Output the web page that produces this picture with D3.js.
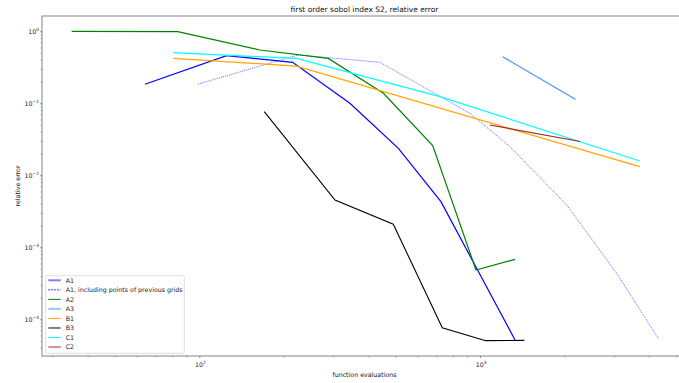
<!DOCTYPE html>
<html>
<head>
<meta charset="utf-8">
<script src="https://cdn.jsdelivr.net/npm/d3@7"></script>
<style>
  html, body { margin: 0; padding: 0; background: #fff; }
  svg { display: block; font-family: "DejaVu Sans", sans-serif; }
</style>
</head>
<body>
<svg id="chart" width="679" height="383"></svg>
<script>
// Convergence of the S2 first-order Sobol index estimates (function evaluations vs relative error)
const a1X = [64, 125, 215, 344, 512, 726, 1333];
const a1Y = [0.184, 0.458, 0.371, 0.100, 0.0237, 0.0043, 5.16e-5];
const a1AllX = [99, 225, 440, 921, 1279, 2037, 3069, 4315];
const a1AllY = [0.185, 0.469, 0.371, 0.0726, 0.025, 0.00387, 4.35e-4, 5.45e-5];
const a2X = [35.1, 83.8, 164.5, 288, 453, 678.5, 967.6, 1333];
const a2Y = [1.0, 0.99, 0.55, 0.42, 0.138, 0.0258, 4.84e-4, 6.8e-4];
const a3X = [1204, 2187];
const a3Y = [0.444, 0.114];
const b1X = [80.8, 222, 3710];
const b1Y = [0.42, 0.329, 0.0132];
const b3X = [170.4, 304.4, 491, 734, 1048, 1439];
const b3Y = [0.0764, 0.00454, 0.00209, 7.64e-5, 5.05e-5, 5.1e-5];
const c1X = [80.8, 222, 720, 3710];
const c1Y = [0.505, 0.42, 0.1235, 0.0158];
const c2X = [1085, 2275];
const c2Y = [0.05, 0.0295];

const xTickExps = [2, 3];
const yTickExps = [0, -1, -2, -3, -4];
const titleText = "first order sobol index S2, relative error";
const xLabelText = "function evaluations";
const yLabelText = "relative error";

(function () {
const series = [
  { name: "A1", xs: a1X, ys: a1Y, color: "#0000ff", width: 1.2, dash: null, opacity: 1,
    legColor: "#8080ff", legWidth: 2 },
  { name: "A1, including points of previous grids", xs: a1AllX, ys: a1AllY, color: "#0000ff", width: 1, dash: "1,1", opacity: 0.6,
    legColor: "#0000ff", legWidth: 1, legDash: "1.5,1.5" },
  { name: "A2", xs: a2X, ys: a2Y, color: "#008000", width: 1.2, dash: null, opacity: 1,
    legColor: "#008000", legWidth: 1 },
  { name: "A3", xs: a3X, ys: a3Y, color: "#3d96f5", width: 1.2, dash: null, opacity: 1,
    legColor: "#8fc7ff", legWidth: 2 },
  { name: "B1", xs: b1X, ys: b1Y, color: "#ffa500", width: 1.2, dash: null, opacity: 1,
    legColor: "#ffa500", legWidth: 1 },
  { name: "B3", xs: b3X, ys: b3Y, color: "#000000", width: 1.1, dash: null, opacity: 1,
    legColor: "#808080", legWidth: 2 },
  { name: "C1", xs: c1X, ys: c1Y, color: "#00ffff", width: 1.2, dash: null, opacity: 1,
    legColor: "#00ffff", legWidth: 1 },
  { name: "C2", xs: c2X, ys: c2Y, color: "#a52a2a", width: 1.2, dash: null, opacity: 1,
    legColor: "#d29494", legWidth: 2 }
];

const svg = d3.select("#chart");
const mLeft = 42, mRight = 687, mTop = 16, mBottom = 356;

const x = d3.scaleLog().domain([Math.pow(10, 1.4396), Math.pow(10, 3.7375)]).range([mLeft, mRight]);
const y = d3.scaleLog().domain([Math.pow(10, -4.5097), Math.pow(10, 0.2125)]).range([mBottom, mTop]);

const axisColor = "#555";
const fs = 6.3;

// plot area lines
const plot = svg.append("g");
const line = d3.line().x(d => x(d[0])).y(d => y(d[1]));
series.forEach(s => {
  const pts = s.xs.map((v, i) => [v, s.ys[i]]);
  plot.append("path")
    .attr("d", line(pts))
    .attr("fill", "none")
    .attr("stroke", s.color)
    .attr("stroke-width", s.width)
    .attr("stroke-opacity", s.opacity)
    .attr("stroke-dasharray", s.dash)
    .attr("stroke-linejoin", "miter");
});

// axes
const xAxis = svg.append("g").attr("transform", `translate(0,${mBottom})`)
  .call(d3.axisBottom(x).tickValues(xTickExps.map(e => Math.pow(10, e))).tickSize(2).tickFormat(() => ""));
const xMinor = [];
for (let k = 1; k <= 3; k++) for (let m = 2; m <= 9; m++) {
  const v = m * Math.pow(10, k);
  if (v > x.domain()[0] && v < x.domain()[1]) xMinor.push(v);
}
const xAxisMinor = svg.append("g").attr("transform", `translate(0,${mBottom})`)
  .call(d3.axisBottom(x).tickValues(xMinor).tickSize(1.2).tickFormat(() => ""));

const yAxis = svg.append("g").attr("transform", `translate(${mLeft},0)`)
  .call(d3.axisLeft(y).tickValues(yTickExps.map(e => Math.pow(10, e))).tickSize(2).tickFormat(() => ""));
const yMinor = [];
for (let k = -5; k <= 0; k++) for (let m = 2; m <= 9; m++) {
  const v = m * Math.pow(10, k);
  if (v > y.domain()[0] && v < y.domain()[1]) yMinor.push(v);
}
const yAxisMinor = svg.append("g").attr("transform", `translate(${mLeft},0)`)
  .call(d3.axisLeft(y).tickValues(yMinor).tickSize(1.2).tickFormat(() => ""));

[xAxis, xAxisMinor, yAxis, yAxisMinor].forEach(g => {
  g.select(".domain").remove();
  g.selectAll(".tick line").attr("stroke", axisColor).attr("stroke-width", 0.7);
});

// spines
svg.append("rect")
  .attr("x", mLeft).attr("y", mTop)
  .attr("width", mRight - mLeft).attr("height", mBottom - mTop)
  .attr("fill", "none").attr("stroke", "#777").attr("stroke-width", 0.9);

// tick labels as 10 with superscript exponents
function powLabel(g, e, px, py, anchor) {
  const t = g.append("text")
    .attr("x", px).attr("y", py)
    .attr("text-anchor", anchor)
    .attr("font-size", fs)
    .attr("fill", "#222");
  t.append("tspan").text("10");
  t.append("tspan")
    .attr("font-size", fs * 0.7)
    .attr("dy", -fs * 0.42)
    .text(e < 0 ? "\u2212" + (-e) : String(e));
}
const labels = svg.append("g");
xTickExps.forEach(e => powLabel(labels, e, x(Math.pow(10, e)) + 1.2, mBottom + 10.5, "middle"));
yTickExps.forEach(e => powLabel(labels, e, mLeft - 3, y(Math.pow(10, e)) + 2.6, "end"));

// title and axis labels
svg.append("text")
  .attr("x", (mLeft + mRight) / 2).attr("y", 12)
  .attr("text-anchor", "middle").attr("font-size", 7.5).attr("fill", "#111")
  .text(titleText);
svg.append("text")
  .attr("x", (mLeft + mRight) / 2).attr("y", 376.5)
  .attr("text-anchor", "middle").attr("font-size", fs).attr("fill", "#111")
  .text(xLabelText);
svg.append("text")
  .attr("transform", `translate(20,${(mTop + mBottom) / 2}) rotate(-90)`)
  .attr("text-anchor", "middle").attr("font-size", fs).attr("fill", "#111")
  .text(yLabelText);

// legend
const leg = svg.append("g");
leg.append("rect")
  .attr("x", 45.7).attr("y", 275.7).attr("width", 138.6).attr("height", 77.6)
  .attr("rx", 1.5)
  .attr("fill", "#fff").attr("fill-opacity", 0.8)
  .attr("stroke", "#d5d5d5").attr("stroke-width", 0.8);
series.forEach((s, i) => {
  const cy = 280.3 + i * 9.53;
  leg.append("line")
    .attr("x1", 48.3).attr("x2", 60.7).attr("y1", cy).attr("y2", cy)
    .attr("stroke", s.legColor).attr("stroke-width", s.legWidth)
    .attr("stroke-dasharray", s.legDash || null);
  leg.append("text")
    .attr("x", 65.7).attr("y", cy + 2.2)
    .attr("font-size", fs).attr("fill", "#222")
    .text(s.name);
});
})();
</script>
</body>
</html>
